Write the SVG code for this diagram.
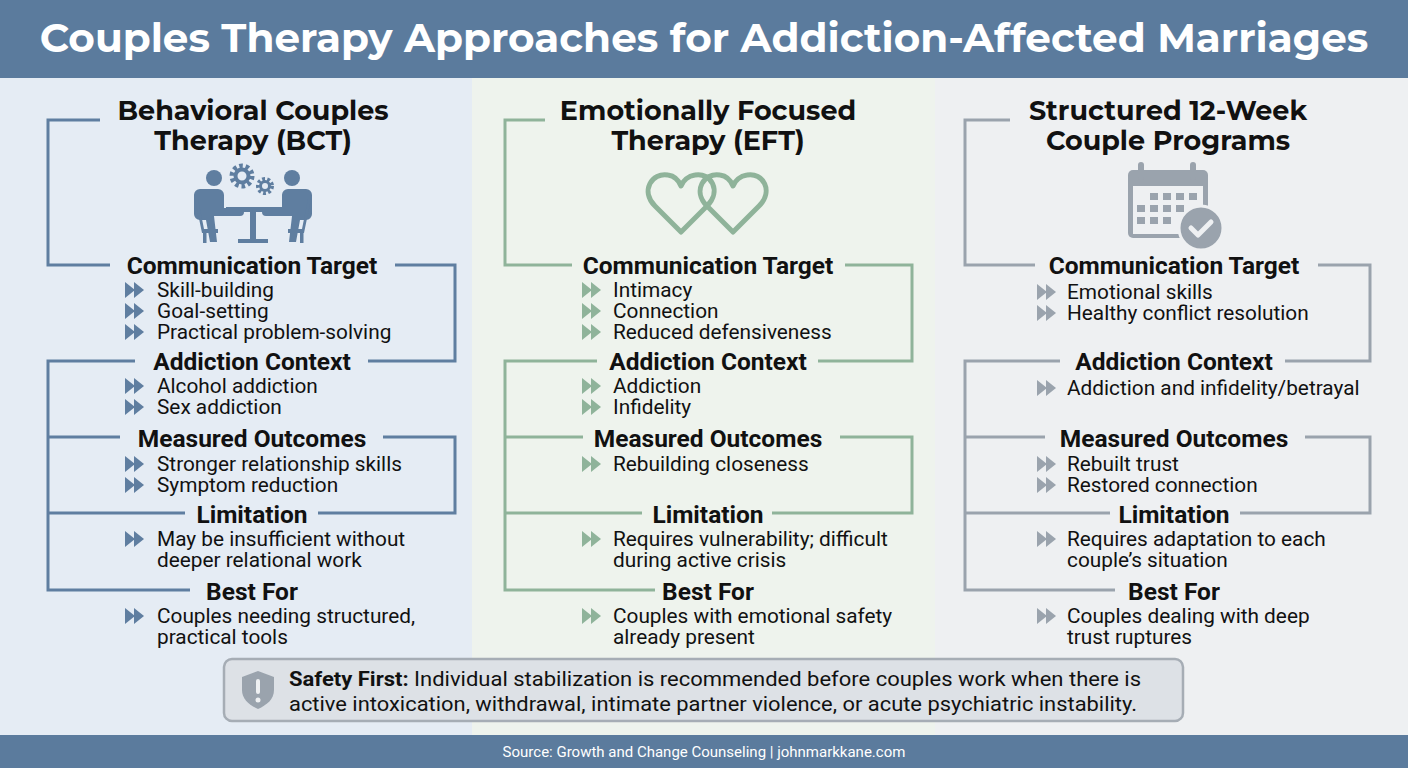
<svg xmlns="http://www.w3.org/2000/svg" width="1408" height="768" viewBox="0 0 1408 768">
<defs>
<style>
.t{font-family:Montserrat,"Open Sans","Liberation Sans",sans-serif;font-weight:700;font-size:27px;fill:#111;text-anchor:middle}
.h{font-family:Roboto,"Liberation Sans",sans-serif;font-weight:700;font-size:24.5px;fill:#111;text-anchor:middle}
.b{font-family:Roboto,"Liberation Sans",sans-serif;font-size:20.8px;fill:#111}
.l1{fill:none;stroke:#5f7ea0;stroke-width:3}
.l2{fill:none;stroke:#8fb39a;stroke-width:3}
.l3{fill:none;stroke:#9aa3ad;stroke-width:3}
</style>
<g id="chev"><path d="M0,-8 L10,0 L0,8Z M9,-8 L19,0 L9,8Z"/></g>
</defs>
<rect width="1408" height="768" fill="#eef0f2"/>
<rect x="0" y="78" width="472" height="657" fill="#e5ecf4"/>
<rect x="472" y="78" width="463" height="657" fill="#eef3ed"/>
<rect x="935" y="78" width="473" height="657" fill="#eef0f2"/>
<rect x="0" y="0" width="1408" height="78" fill="#5b7b9d"/>
<text x="704" y="52" font-family="Montserrat,'Open Sans','Liberation Sans',sans-serif" font-weight="700" font-size="40.5" fill="#fff" text-anchor="middle">Couples Therapy Approaches for Addiction-Affected Marriages</text>
<rect x="0" y="735" width="1408" height="33" fill="#5b7b9d"/>
<text x="704" y="757" font-family="Roboto,'Liberation Sans',sans-serif" font-size="15" fill="#fff" text-anchor="middle">Source: Growth and Change Counseling | johnmarkkane.com</text>

<g id="connectors">
<path class="l1" d="M100,120H48V265H110 M395,265H455V361H368 M135,361H48V590H190 M48,437H120 M48,513H185 M383,437H455V513H318"/>
<path class="l2" d="M545,120H505V265H572 M845,265H912V361H818 M597,361H505V590H655 M505,437H583 M505,513H642 M840,437H912V513H772"/>
<path class="l3" d="M1010,120H965V265H1035 M1318,265H1370V361H1285 M1060,361H965V590H1115 M965,437H1045 M965,513H1110 M1305,437H1370V513H1240"/>
</g>

<g id="col1">
<text class="t" x="253" y="120">Behavioral Couples</text>
<text class="t" x="253" y="150">Therapy (BCT)</text>
<g fill="#5f7ea0">
<circle cx="214" cy="178" r="8"/><circle cx="292" cy="178" r="8"/>
<path d="M204,189 h14 a6,6 0 0 1 6,6 v13 h16 a4,4 0 0 1 0,8 h-26 l3,26 h-7 l-4,-22 h-6 a6,6 0 0 1 -6,-6 v-19 a6,6 0 0 1 6,-6z"/>
<path d="M302,189 h-14 a6,6 0 0 0 -6,6 v13 h-16 a4,4 0 0 0 0,8 h26 l-3,26 h7 l4,-22 h6 a6,6 0 0 0 6,-6 v-19 a6,6 0 0 0 -6,-6z"/>
<rect x="226" y="207" width="56" height="5"/><rect x="250" y="210" width="6" height="31"/>
<rect x="238" y="239" width="30" height="4"/>
<path d="M195,199 l3,0 l6,30 h14 v4 h-16z"/>
<path d="M311,199 l-3,0 l-6,30 h-14 v4 h16z"/>
<rect x="203" y="232" width="3.5" height="11"/><rect x="300" y="232" width="3.5" height="11"/>
<circle cx="242" cy="176" r="10" fill="none" stroke="#5f7ea0" stroke-width="5" stroke-dasharray="3.5 2.8"/>
<circle cx="242" cy="176" r="6.5" fill="none" stroke="#5f7ea0" stroke-width="4"/>
<circle cx="265" cy="186" r="7" fill="none" stroke="#5f7ea0" stroke-width="4" stroke-dasharray="2.8 2.2"/>
<circle cx="265" cy="186" r="4.5" fill="none" stroke="#5f7ea0" stroke-width="3"/>
</g>
<text class="h" x="252" y="274">Communication Target</text>
<g fill="#5f7ea0"><use href="#chev" x="125" y="290"/><use href="#chev" x="125" y="311"/><use href="#chev" x="125" y="332"/></g>
<text class="b" x="157" y="297">Skill-building</text>
<text class="b" x="157" y="318">Goal-setting</text>
<text class="b" x="157" y="339">Practical problem-solving</text>
<text class="h" x="252" y="370">Addiction Context</text>
<g fill="#5f7ea0"><use href="#chev" x="125" y="386"/><use href="#chev" x="125" y="407"/></g>
<text class="b" x="157" y="393">Alcohol addiction</text>
<text class="b" x="157" y="414">Sex addiction</text>
<text class="h" x="252" y="447">Measured Outcomes</text>
<g fill="#5f7ea0"><use href="#chev" x="125" y="464"/><use href="#chev" x="125" y="485"/></g>
<text class="b" x="157" y="471">Stronger relationship skills</text>
<text class="b" x="157" y="492">Symptom reduction</text>
<text class="h" x="252" y="523">Limitation</text>
<g fill="#5f7ea0"><use href="#chev" x="125" y="539"/></g>
<text class="b" x="157" y="546">May be insufficient without</text>
<text class="b" x="157" y="567">deeper relational work</text>
<text class="h" x="252" y="600">Best For</text>
<g fill="#5f7ea0"><use href="#chev" x="125" y="616"/></g>
<text class="b" x="157" y="623">Couples needing structured,</text>
<text class="b" x="157" y="644">practical tools</text>
</g>

<g id="col2">
<text class="t" x="708" y="120">Emotionally Focused</text>
<text class="t" x="708" y="150">Therapy (EFT)</text>
<g fill="none" stroke="#8fb39a" stroke-width="5" stroke-linejoin="round">
<path d="M681,232 L655,206 C640,191 652,172 668,175 C675,176 679,181 681,186 C683,181 688,176 695,175 C711,172 722,191 707,206 Z"/>
<path d="M733,232 L707,206 C692,191 704,172 720,175 C727,176 731,181 733,186 C735,181 740,176 747,175 C763,172 774,191 759,206 Z"/>
</g>
<text class="h" x="708" y="274">Communication Target</text>
<g fill="#8fb39a"><use href="#chev" x="582" y="290"/><use href="#chev" x="582" y="311"/><use href="#chev" x="582" y="332"/></g>
<text class="b" x="613" y="297">Intimacy</text>
<text class="b" x="613" y="318">Connection</text>
<text class="b" x="613" y="339">Reduced defensiveness</text>
<text class="h" x="708" y="370">Addiction Context</text>
<g fill="#8fb39a"><use href="#chev" x="582" y="386"/><use href="#chev" x="582" y="407"/></g>
<text class="b" x="613" y="393">Addiction</text>
<text class="b" x="613" y="414">Infidelity</text>
<text class="h" x="708" y="447">Measured Outcomes</text>
<g fill="#8fb39a"><use href="#chev" x="582" y="464"/></g>
<text class="b" x="613" y="471">Rebuilding closeness</text>
<text class="h" x="708" y="523">Limitation</text>
<g fill="#8fb39a"><use href="#chev" x="582" y="539"/></g>
<text class="b" x="613" y="546">Requires vulnerability; difficult</text>
<text class="b" x="613" y="567">during active crisis</text>
<text class="h" x="708" y="600">Best For</text>
<g fill="#8fb39a"><use href="#chev" x="582" y="616"/></g>
<text class="b" x="613" y="623">Couples with emotional safety</text>
<text class="b" x="613" y="644">already present</text>
</g>

<g id="col3">
<text class="t" x="1168" y="120">Structured 12-Week</text>
<text class="t" x="1168" y="150">Couple Programs</text>
<g fill="#9aa3ad">
<rect x="1128" y="170" width="80" height="68" rx="5"/>
<rect x="1138" y="162" width="6" height="18" rx="3"/><rect x="1190" y="162" width="6" height="18" rx="3"/>
<rect x="1133" y="186" width="70" height="48" fill="#eef0f2"/>
<g fill="#9aa3ad">
<rect x="1150" y="193" width="8" height="7"/><rect x="1163" y="193" width="8" height="7"/><rect x="1176" y="193" width="8" height="7"/><rect x="1189" y="193" width="8" height="7"/>
<rect x="1137" y="205" width="8" height="7"/><rect x="1150" y="205" width="8" height="7"/><rect x="1163" y="205" width="8" height="7"/><rect x="1176" y="205" width="8" height="7"/>
<rect x="1137" y="217" width="8" height="7"/><rect x="1150" y="217" width="8" height="7"/><rect x="1163" y="217" width="8" height="7"/>
</g>
<circle cx="1201" cy="228" r="22" stroke="#eef0f2" stroke-width="3"/>
<path d="M1191,228 l7,7 l13,-13" fill="none" stroke="#eef0f2" stroke-width="5" stroke-linecap="round" stroke-linejoin="round"/>
</g>
<text class="h" x="1174" y="274">Communication Target</text>
<g fill="#9aa3ad"><use href="#chev" x="1037" y="292"/><use href="#chev" x="1037" y="313"/></g>
<text class="b" x="1067" y="299">Emotional skills</text>
<text class="b" x="1067" y="320">Healthy conflict resolution</text>
<text class="h" x="1174" y="370">Addiction Context</text>
<g fill="#9aa3ad"><use href="#chev" x="1037" y="388"/></g>
<text class="b" x="1067" y="395">Addiction and infidelity/betrayal</text>
<text class="h" x="1174" y="447">Measured Outcomes</text>
<g fill="#9aa3ad"><use href="#chev" x="1037" y="464"/><use href="#chev" x="1037" y="485"/></g>
<text class="b" x="1067" y="471">Rebuilt trust</text>
<text class="b" x="1067" y="492">Restored connection</text>
<text class="h" x="1174" y="523">Limitation</text>
<g fill="#9aa3ad"><use href="#chev" x="1037" y="539"/></g>
<text class="b" x="1067" y="546">Requires adaptation to each</text>
<text class="b" x="1067" y="567">couple’s situation</text>
<text class="h" x="1174" y="600">Best For</text>
<g fill="#9aa3ad"><use href="#chev" x="1037" y="616"/></g>
<text class="b" x="1067" y="623">Couples dealing with deep</text>
<text class="b" x="1067" y="644">trust ruptures</text>
</g>

<g id="safety">
<rect x="224" y="659" width="959" height="62" rx="8" fill="#dde1e6" stroke="#a6adb5" stroke-width="2.5"/>
<path d="M258,671 L274,677 V690 C274,699 267,705 258,709 C249,705 242,699 242,690 V677 Z" fill="#9aa3ad"/>
<rect x="256" y="679" width="4" height="15" rx="2" fill="#eef0f2"/><circle cx="258" cy="700" r="2.5" fill="#eef0f2"/>
<text x="289" y="686" font-family="Roboto,'Liberation Sans',sans-serif" font-size="20" fill="#111" textLength="852" lengthAdjust="spacingAndGlyphs"><tspan font-weight="700">Safety First:</tspan> Individual stabilization is recommended before couples work when there is</text>
<text x="289" y="711" font-family="Roboto,'Liberation Sans',sans-serif" font-size="20" fill="#111" textLength="848" lengthAdjust="spacingAndGlyphs">active intoxication, withdrawal, intimate partner violence, or acute psychiatric instability.</text>
</g>
</svg>
